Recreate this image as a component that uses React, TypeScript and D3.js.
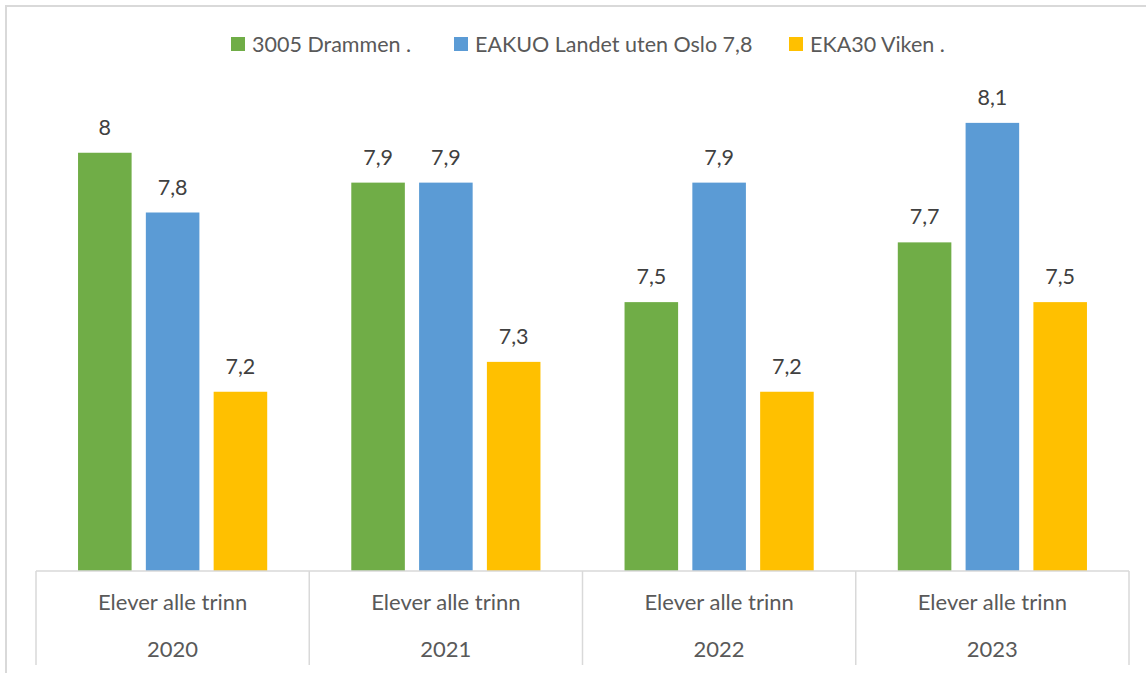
import React from "react";
import * as d3 from "d3";

const years = ["2020", "2021", "2022", "2023"];
const subLabel = "Elever alle trinn";
const seriesNames = ["3005 Drammen .", "EAKUO Landet uten Oslo 7,8", "EKA30 Viken ."];
const seriesColors = ["#70ad47", "#5b9bd5", "#ffc000"];
const drammen = [8.0, 7.9, 7.5, 7.7];
const landet = [7.8, 7.9, 7.9, 8.1];
const viken = [7.2, 7.3, 7.2, 7.5];
const seriesValues = [drammen, landet, viken];

const W = 1146;
const H = 673;
const FONT = "Lato, 'Open Sans', sans-serif";

export default function App() {
  const left = 36, right = 1129, baseY = 571, topY = 93;
  const x0 = d3.scaleBand<string>().domain(years).range([left, right]).paddingInner(0).paddingOuter(0);
  const x1 = d3.scaleBand<number>().domain([0, 1, 2]).range([0, x0.bandwidth()]).paddingOuter(0.62).paddingInner(0.21);
  const y = d3.scaleLinear().domain([6.6, 8.2]).range([baseY, topY]);
  const fmt = (v: number) => String(v).replace(".", ",");

  const legendX = [231, 454, 789];

  return (
    <div style={{ position: "absolute", left: 0, top: 0 }}>
      <svg width={W} height={H} style={{ display: "block" }}>
        <rect x={0} y={0} width={W} height={H} fill="#fff" />
        <rect x={6} y={6} width={W + 20} height={H + 20} fill="none" stroke="#d9d9d9" strokeWidth={2} />
        {/* legend */}
        {seriesNames.map((n, i) => (
          <g key={n}>
            <rect x={legendX[i]} y={37} width={14} height={14} fill={seriesColors[i]} />
            <text x={legendX[i] + 21} y={52} fontFamily={FONT} fontSize={21.5} fill="#595959">{n}</text>
          </g>
        ))}
        {/* bars */}
        {years.map((yr, ci) => (
          <g key={yr} transform={`translate(${x0(yr)},0)`}>
            {seriesValues.map((vals, si) => {
              const v = vals[ci];
              const bx = x1(si)!;
              return (
                <g key={si}>
                  <rect x={bx} y={y(v)} width={x1.bandwidth()} height={baseY - y(v)} fill={seriesColors[si]} />
                  <text x={bx + x1.bandwidth() / 2} y={y(v) - 18} textAnchor="middle" fontFamily={FONT} fontSize={21.5} fill="#404040">{fmt(v)}</text>
                </g>
              );
            })}
          </g>
        ))}
        {/* category axis */}
        <line x1={left} x2={right} y1={baseY} y2={baseY} stroke="#d9d9d9" strokeWidth={1.5} />
        {[...years.map((yr) => x0(yr)!), right].map((xx, i) => (
          <line key={i} x1={xx} x2={xx} y1={baseY} y2={665} stroke="#d9d9d9" strokeWidth={1.5} />
        ))}
        {years.map((yr) => (
          <g key={yr}>
            <text x={x0(yr)! + x0.bandwidth() / 2} y={610} textAnchor="middle" fontFamily={FONT} fontSize={22} fill="#595959">{subLabel}</text>
            <text x={x0(yr)! + x0.bandwidth() / 2} y={657} textAnchor="middle" fontFamily={FONT} fontSize={22} fill="#595959">{yr}</text>
          </g>
        ))}
      </svg>
    </div>
  );
}
